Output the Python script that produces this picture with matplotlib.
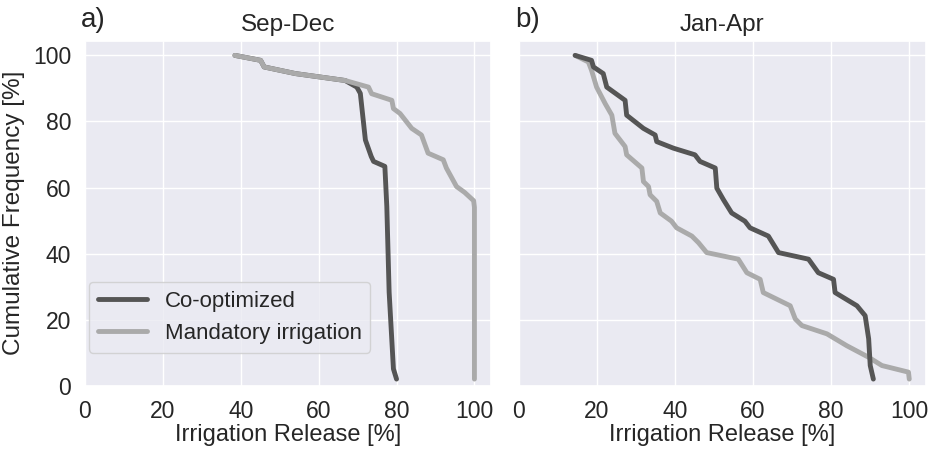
import matplotlib
matplotlib.use("Agg")
import matplotlib.pyplot as plt
import seaborn as sns

sns.set_theme(style="darkgrid")
plt.rcParams['font.family'] = ['Liberation Sans', 'DejaVu Sans']

# Sep-Dec (panel a)
sep_coopt_x = [38.5, 45.1, 46.0, 54.0, 66.8, 69.8, 70.7, 72.0, 73.5, 74.1, 77.0,
               77.5, 78.1, 79.2, 80.0]
sep_coopt_y = [100, 98.5, 96.5, 94.5, 92.4, 90.4, 88.5, 74.4, 69.4, 67.9, 66.4,
               54.3, 28.3, 5.1, 2]
sep_mand_x = [38.5, 45.1, 46.0, 54.0, 66.8, 72.8, 73.6, 78.8, 79.2, 80.9, 83.9,
              86.4, 88.1, 92.0, 92.8, 95.4, 97.5, 99.8, 100, 100]
sep_mand_y = [100, 98.5, 96.5, 94.5, 92.4, 90.4, 88.4, 86.4, 83.9, 82.4, 77.9,
              75.9, 70.4, 68.4, 65.9, 60.3, 58.5, 56, 54, 2]

# Jan-Apr (panel b)
jan_coopt_x = [14.4, 18.6, 19.1, 21.6, 22.5, 27.2, 27.6, 31.9, 34.9, 35.3, 39.6,
               45.1, 46.4, 50.3, 50.7, 52.4, 54.5, 57.9, 59.2, 63.9, 66.5, 74.2,
               76.7, 80.6, 81.0, 86.6, 88.7, 89.6, 90.0, 90.8]
jan_coopt_y = [100, 98.5, 96.5, 94.5, 90.4, 86.4, 81.9, 77.9, 75.9, 73.9, 71.9,
               69.9, 67.9, 65.9, 59.8, 56.3, 52.3, 49.8, 47.8, 45.3, 40.3, 38.3,
               34.2, 32.2, 28.2, 24.2, 21.2, 14.2, 6.1, 2]
jan_mand_x = [14.4, 17.8, 18.6, 19.9, 22.1, 23.8, 24.6, 27.2, 27.6, 31.5, 31.9,
              33.2, 33.6, 35.3, 36.2, 39.1, 40.4, 44.3, 46.0, 48.1, 56.2, 58.4,
              61.8, 62.6, 69.5, 70.8, 72.5, 78.9, 84.0, 89.6, 93.0, 99.8, 100]
jan_mand_y = [100, 98, 95.5, 90.4, 85.4, 81.9, 76.4, 72.4, 69.9, 65.9, 61.8,
              60.3, 57.8, 55.8, 52.3, 49.8, 47.8, 45.3, 43.3, 40.3, 38.3, 34.2,
              32.2, 28.2, 24.2, 20.2, 18.2, 15.7, 12.1, 8.6, 6.1, 4.1, 2]

dark = '#555555'
light = '#aaaaaa'
txt = '#262626'
line_kw = dict(lw=3.5, solid_capstyle='round', solid_joinstyle='round')

fig = plt.figure(figsize=(9.35, 4.49), dpi=100)
ax1 = fig.add_axes([0.0909, 0.141, 0.434, 0.768])
ax2 = fig.add_axes([0.555, 0.141, 0.435, 0.768], sharey=ax1)

ax1.plot(sep_coopt_x, sep_coopt_y, color=dark, label='Co-optimized', **line_kw)
ax1.plot(sep_mand_x, sep_mand_y, color=light, label='Mandatory irrigation', **line_kw)
ax2.plot(jan_mand_x, jan_mand_y, color=light, **line_kw)
ax2.plot(jan_coopt_x, jan_coopt_y, color=dark, **line_kw)

for ax, title, tag in [(ax1, 'Sep-Dec', 'a)'), (ax2, 'Jan-Apr', 'b)')]:
    ax.set_xlim(0, 104.2)
    ax.set_xticks([0, 20, 40, 60, 80, 100])
    ax.set_xlabel('Irrigation Release [%]', fontsize=17, labelpad=1, color=txt)
    ax.set_title(title, fontsize=17.5, color=txt, pad=7)
    ax.text(-0.01, 1.04, tag, transform=ax.transAxes, fontsize=20, color=txt)
    ax.tick_params(labelsize=16.5, labelcolor=txt, pad=4)

ax1.set_ylim(0, 104.4)
ax1.set_yticks([0, 20, 40, 60, 80, 100])
ax1.set_ylabel('Cumulative Frequency [%]', fontsize=17.5, color=txt, labelpad=6)
plt.setp(ax2.get_yticklabels(), visible=False)

leg = ax1.legend(loc='lower left', bbox_to_anchor=(0.01, 0.095), fontsize=16,
                 frameon=True, handlelength=2.2, borderaxespad=0)
for t in leg.get_texts():
    t.set_color(txt)

fig.savefig('out.png', dpi=100)
